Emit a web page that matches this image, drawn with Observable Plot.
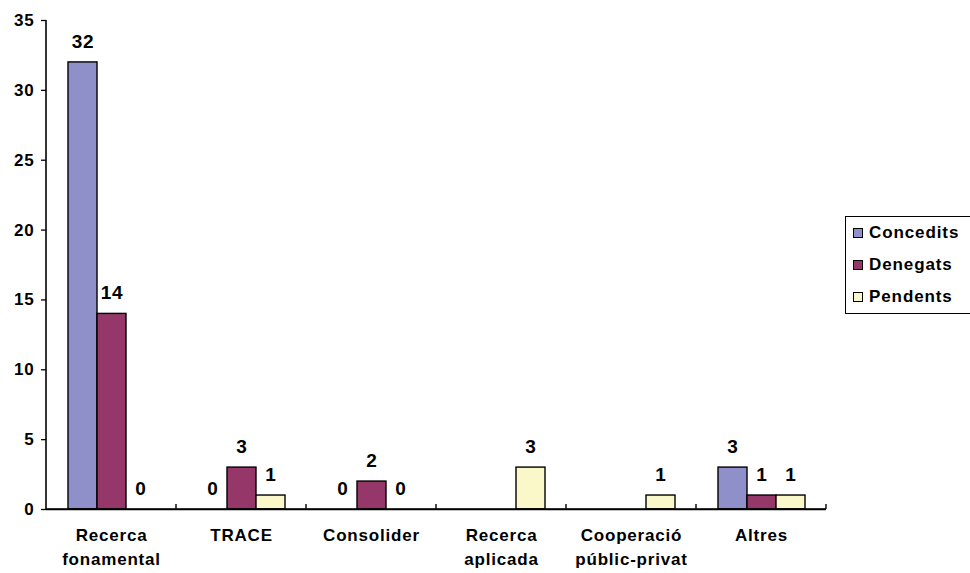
<!DOCTYPE html>
<html>
<head>
<meta charset="utf-8">
<script src="https://cdn.jsdelivr.net/npm/d3@7"></script>
<script src="https://cdn.jsdelivr.net/npm/@observablehq/plot@0.6"></script>
<style>
  html, body { margin: 0; padding: 0; background: #fff; }
  #wrap { position: relative; width: 970px; height: 573px; overflow: hidden; font-family: "Liberation Sans", Arial, sans-serif; }
  #legend { position: absolute; left: 845px; top: 216px; width: 140px; border: 1px solid #000; padding: 0; box-sizing: border-box; background: #fff; }
  .item { height: 32px; display: flex; align-items: center; font-weight: bold; font-size: 17px; letter-spacing: 0.9px; }
  .sw { width: 8px; height: 8px; border: 1px solid #000; margin-left: 7px; margin-right: 6px; }
</style>
</head>
<body>
<div id="wrap"><div id="chart"></div><div id="legend"></div></div>
<script>
const categories = ["Recerca fonamental", "TRACE", "Consolider", "Recerca aplicada", "Cooperació públic-privat", "Altres"];
const series = ["Concedits", "Denegats", "Pendents"];
const concedits = [32, 0, 0, null, null, 3];
const denegats  = [14, 3, 2, null, null, 1];
const pendents  = [0, 1, 0, 3, 1, 1];
const yTicks = [0, 5, 10, 15, 20, 25, 30, 35];
const colors = ["#8f8fc9", "#953869", "#faf7c9"];

const valuesBySeries = [concedits, denegats, pendents];
const rows = [];
categories.forEach((c, i) => {
  series.forEach((s, j) => {
    const v = valuesBySeries[j][i];
    if (v !== null) rows.push({cat: c, series: s, value: v});
  });
});

const fontFamily = '"Liberation Sans", Arial, sans-serif';

const chart = Plot.plot({
  width: 832,
  height: 573,
  marginLeft: 44,
  marginRight: 5,
  marginTop: 20,
  marginBottom: 64,
  style: {fontFamily, background: "#fff", color: "#000", overflow: "visible"},
  fx: {domain: categories, padding: 0, label: null},
  x: {domain: series, paddingInner: 0, paddingOuter: 0.72, axis: null},
  y: {domain: [0, 35], axis: null},
  color: {domain: series, range: colors},
  marks: [
    Plot.barY(rows, {fx: "cat", x: "series", y: "value", fill: "series", stroke: "#000", strokeWidth: 1.4}),
    Plot.ruleY([0], {stroke: "#000", strokeWidth: 1.6}),
    Plot.text(rows, {fx: "cat", x: "series", y: "value", text: d => String(d.value), dy: -21,
      fontSize: 19, fontWeight: "bold", fill: "#000", lineAnchor: "middle"}),
    Plot.axisY({ticks: yTicks, tickSize: 5, tickPadding: 7, fontSize: 17, fontWeight: "bold",
      label: null, stroke: "#000", strokeWidth: 1.3, fill: "#000", tickFormat: d => String(d)}),
    Plot.axisFx({anchor: "bottom", tickSize: 0, tickPadding: 15, fontSize: 17, fontWeight: "bold", lineHeight: 1.4,
      label: null, fill: "#000", tickFormat: d => d.includes(" ") ? d.replace(" ", "\n") : d})
  ]
});

document.getElementById("chart").appendChild(chart);

// axis lines and category-boundary tick marks, positioned via the plot's own scales
const fx = chart.scale("fx");
const y = chart.scale("y");
const svg = d3.select(chart);
const y0 = y.apply(0), yTop = y.apply(35);
const left = fx.apply(categories[0]);
const right = fx.apply(categories[categories.length - 1]) + fx.bandwidth;
svg.append("line").attr("x1", left).attr("x2", left).attr("y1", yTop).attr("y2", y0)
  .attr("stroke", "#000").attr("stroke-width", 1.6);
svg.append("line").attr("x1", left).attr("x2", right).attr("y1", y0).attr("y2", y0)
  .attr("stroke", "#000").attr("stroke-width", 1.6);
const bounds = categories.slice(1).map(c => fx.apply(c)).concat([right]);
bounds.forEach(b => {
  svg.append("line").attr("x1", b).attr("x2", b).attr("y1", y0).attr("y2", y0 - 5)
    .attr("stroke", "#000").attr("stroke-width", 1.4);
});
svg.selectAll("text").style("letter-spacing", "0.8px");

// legend
const legend = d3.select("#legend");
series.forEach((s, i) => {
  const it = legend.append("div").attr("class", "item");
  it.append("div").attr("class", "sw").style("background", colors[i]);
  it.append("span").text(s);
});
</script>
</body>
</html>
